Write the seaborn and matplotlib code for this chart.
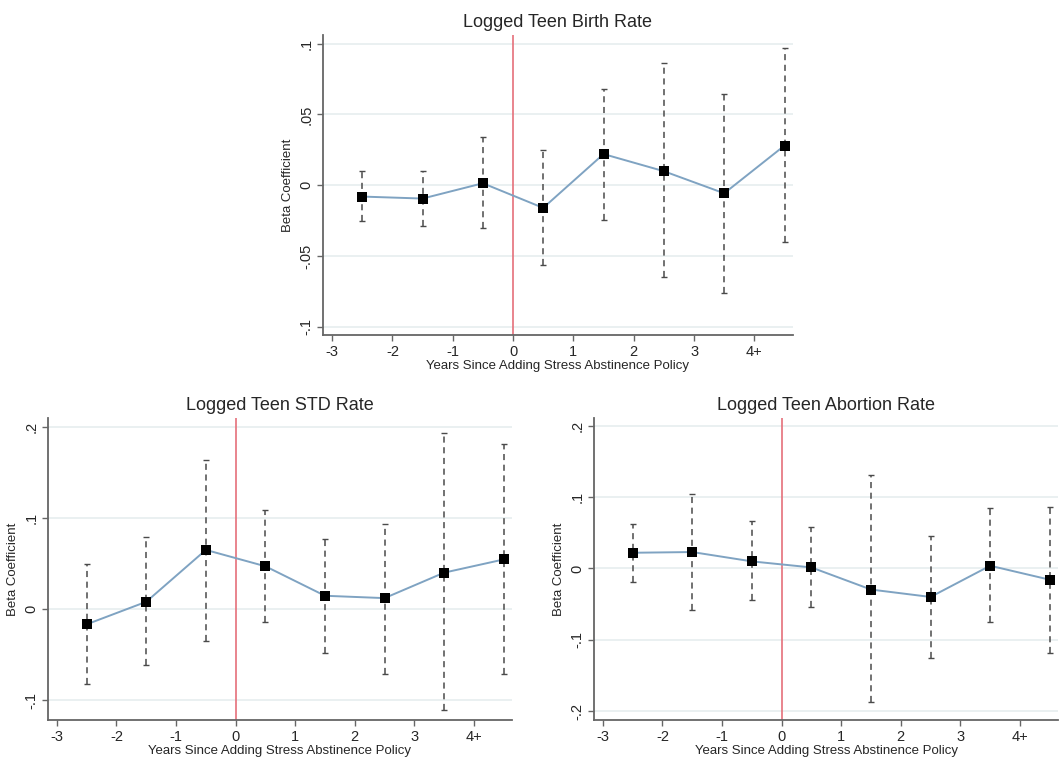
import numpy as np
import pandas as pd
import seaborn as sns
import matplotlib.pyplot as plt

# event-time bins (midpoints between the year ticks)
years = [-2.5, -1.5, -0.5, 0.5, 1.5, 2.5, 3.5, 4.5]
tick_pos = [-3, -2, -1, 0, 1, 2, 3, 4]
tick_labels = ["-3", "-2", "-1", "0", "1", "2", "3", "4+"]

# logged teen birth rate
birth_beta = [-0.008, -0.0094, 0.0014, -0.016, 0.022, 0.0099, -0.0057, 0.028]
birth_hi = [0.0099, 0.0099, 0.034, 0.0248, 0.068, 0.086, 0.0647, 0.0965]
birth_lo = [-0.0255, -0.0285, -0.0304, -0.0566, -0.0243, -0.065, -0.076, -0.040]

# logged teen STD rate
std_beta = [-0.0168, 0.008, 0.065, 0.047, 0.0146, 0.012, 0.040, 0.0545]
std_hi = [0.049, 0.079, 0.164, 0.109, 0.077, 0.094, 0.193, 0.181]
std_lo = [-0.082, -0.062, -0.035, -0.0146, -0.0486, -0.0717, -0.1115, -0.071]

# logged teen abortion rate
abort_beta = [0.022, 0.023, 0.0099, 0.0014, -0.0296, -0.040, 0.0038, -0.0158]
abort_hi = [0.063, 0.104, 0.0667, 0.0587, 0.131, 0.045, 0.0854, 0.0855]
abort_lo = [-0.019, -0.058, -0.0446, -0.0545, -0.188, -0.125, -0.0756, -0.118]

sns.set_theme(style="white")
plt.rcParams["font.family"] = ["Liberation Sans", "DejaVu Sans"]

line_col = "#7fa3c2"
grid_col = "#e4ecee"
spine_col = "#666666"
red_col = "#e5707a"


def fmt(v):
    s = f"{v:g}"
    if s == "0":
        return s
    return s.replace("0.", ".")


def panel(ax, title, beta, lo, hi, yticks, ylim):
    df = pd.DataFrame({"year": years, "beta": beta, "lo": lo, "hi": hi})
    ax.set_xlim(-3.15, 4.64)
    ax.set_ylim(*ylim)
    for t in yticks:
        ax.axhline(t, color=grid_col, lw=1.1, zorder=0)
    ax.axvline(0, color=red_col, lw=1.2, zorder=1)
    err = np.array([df["beta"] - df["lo"], df["hi"] - df["beta"]])
    eb = ax.errorbar(df["year"], df["beta"], yerr=err, fmt="none",
                     ecolor="#4a4a4a", elinewidth=1.1, capsize=2.5,
                     capthick=1.0, zorder=2)
    eb[2][0].set_linestyle((0, (4, 3)))
    sns.lineplot(data=df, x="year", y="beta", color=line_col, lw=1.4,
                 ax=ax, zorder=3)
    sns.scatterplot(data=df, x="year", y="beta", marker="s", color="black",
                    s=50, edgecolor="black", linewidth=0, ax=ax, zorder=4)
    ax.set_xticks(tick_pos)
    ax.set_xticklabels(tick_labels, fontsize=10.5)
    ax.set_yticks(yticks)
    ax.set_yticklabels([fmt(t) for t in yticks], fontsize=10.5, rotation=90,
                       va="center")
    ax.tick_params(axis="both", direction="out", length=4, width=1,
                   color=spine_col, pad=3, left=True, bottom=True)
    for side in ["top", "right"]:
        ax.spines[side].set_visible(False)
    for side in ["left", "bottom"]:
        ax.spines[side].set_color(spine_col)
        ax.spines[side].set_linewidth(1.3)
    ax.set_title(title, fontsize=13, pad=6)
    ax.set_xlabel("Years Since Adding Stress Abstinence Policy", fontsize=9.5,
                  labelpad=1)
    ax.set_ylabel("Beta Coefficient", fontsize=9.5, labelpad=4)


fig = plt.figure(figsize=(10.59, 7.6), dpi=100)
ax1 = fig.add_axes([0.305, 0.5592, 0.4438, 0.3947])
ax2 = fig.add_axes([0.0453, 0.0526, 0.4382, 0.3974])
ax3 = fig.add_axes([0.5609, 0.0526, 0.4382, 0.3974])

panel(ax1, "Logged Teen Birth Rate", birth_beta, birth_lo, birth_hi,
      [-0.1, -0.05, 0, 0.05, 0.1], (-0.1057, 0.106))
panel(ax2, "Logged Teen STD Rate", std_beta, std_lo, std_hi,
      [-0.1, 0, 0.1, 0.2], (-0.122, 0.21))
panel(ax3, "Logged Teen Abortion Rate", abort_beta, abort_lo, abort_hi,
      [-0.2, -0.1, 0, 0.1, 0.2], (-0.2126, 0.211))

fig.savefig("out.png", dpi=100)
